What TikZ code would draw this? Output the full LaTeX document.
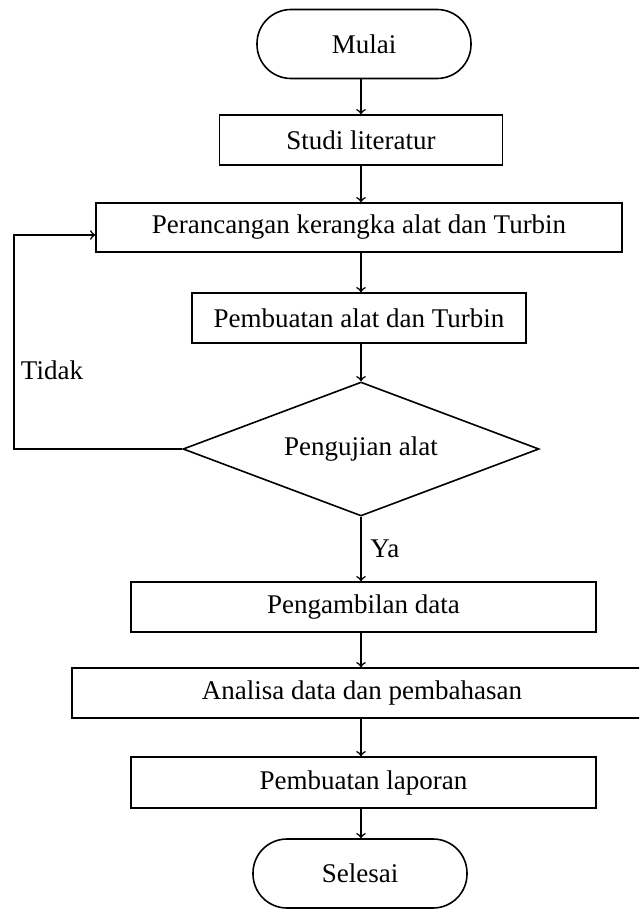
\documentclass[tikz,border=0pt]{standalone}
\usepackage{fontspec}
\setmainfont{Liberation Serif}
\usetikzlibrary{shapes.geometric}
\tikzset{
    terminal-box/.style = {draw, thick, rectangle, rounded corners=17pt, minimum width=107pt, minimum height=34.5pt, inner sep=0pt},
    process-box/.style = {draw, thick, rectangle, minimum height=25pt, inner sep=0pt},
    decision-box/.style = {draw, thick, diamond, aspect=2.66, minimum width=178pt, minimum height=67pt, inner sep=0pt},
    flow-arrow/.style = {->, >=to, thick},
}

\begin{document}
\begin{tikzpicture}[x=0.5pt, y=-0.5pt, font=\fontsize{13.5}{15}\selectfont]
\useasboundingbox (0,0) rectangle (639,909);
\clip (0,0) rectangle (639,909);
\node [terminal-box] (mulai) at (364,44) {Mulai};
\node [process-box, minimum width=141.5pt] (studi) at (361,140) {Studi literatur};
\node [process-box, minimum width=263pt, minimum height=24.5pt] (rancang) at (359,227.5) {Perancangan kerangka alat dan Turbin};
\node [process-box, minimum width=167pt] (buat) at (359,318) {Pembuatan alat dan Turbin};
\node [decision-box] (uji) at (361,449) {Pengujian alat};
\node [process-box, minimum width=232.5pt] (ambil) at (363.5,607) {Pengambilan data};
\node [process-box, minimum width=290pt] (analisa) at (362,693) {Analisa data dan pembahasan};
\node [process-box, minimum width=232.5pt, minimum height=25.5pt] (laporan) at (363.5,782.5) {Pembuatan laporan};
\node [terminal-box] (selesai) at (360,873.5) {Selesai};

% alur utama
\draw [flow-arrow] (mulai.south -| studi) -- (studi);
\draw [flow-arrow] (studi) -- (studi |- rancang.north);
\draw [flow-arrow] (rancang.south -| uji) -- (buat.north -| uji);
\draw [flow-arrow] (buat.south -| uji) -- (uji);
\draw [flow-arrow] (uji) -- node [right, xshift=1pt] (ya) {Ya} (ambil.north -| uji);
\draw [flow-arrow] (ambil.south -| uji) -- (analisa.north -| uji);
\draw [flow-arrow] (analisa.south -| uji) -- (laporan.north -| uji);
\draw [flow-arrow] (laporan.south -| uji) -- (selesai.north -| uji);

% kembali ke perancangan
\coordinate (balik) at (14,449);
\draw [flow-arrow] (uji.west) -- (balik) |- ([yshift=-3.75pt]rancang.west);
\node (tidak) at (52,370) {Tidak};
\end{tikzpicture}
\end{document}
